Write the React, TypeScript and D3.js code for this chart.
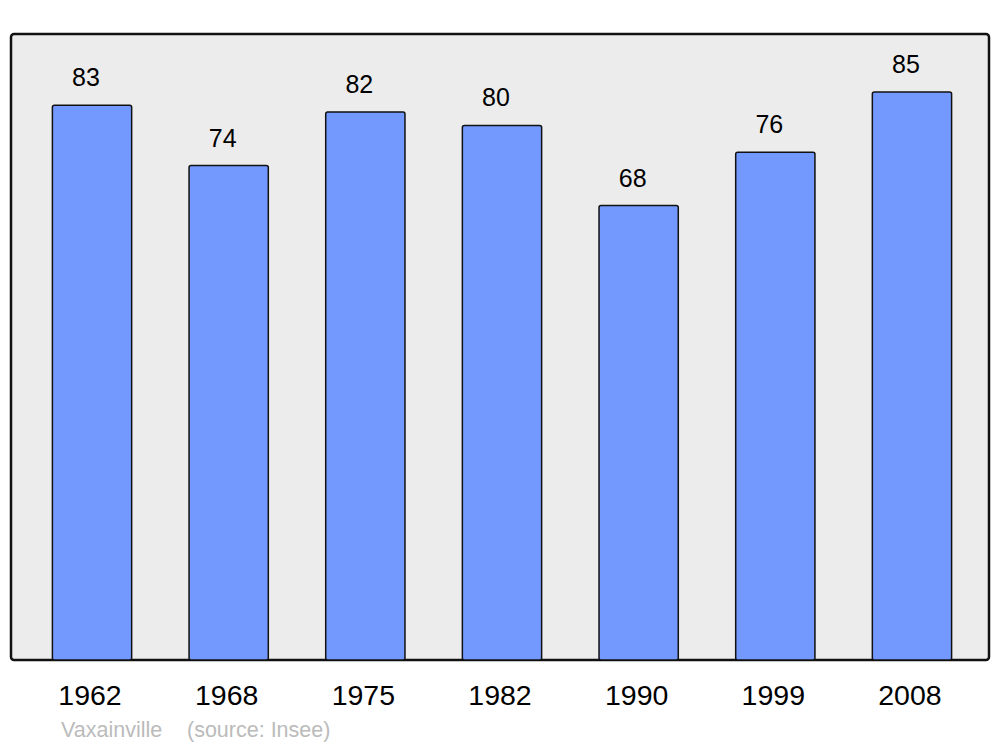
import React, { useRef, useEffect } from 'react';
import * as d3 from 'd3';

const years = ['1962', '1968', '1975', '1982', '1990', '1999', '2008'];
const population = [83, 74, 82, 80, 68, 76, 85];
const townName = 'Vaxainville';
const sourceLabel = '(source: Insee)';

const width = 1000;
const height = 747;

export default function App() {
	const chartRef = useRef<null | SVGSVGElement>(null);

	useEffect(() => {
		if (!chartRef.current) {
			return;
		}
		const svg = d3.select(chartRef.current);
		svg.selectAll('*').remove();

		const font = '"Liberation Sans", Arial, sans-serif';

		// Frame of the plot
		svg.append('rect')
			.attr('x', 11)
			.attr('y', 34)
			.attr('width', 978)
			.attr('height', 626)
			.attr('rx', 3)
			.attr('fill', '#ececec')
			.attr('stroke', '#111')
			.attr('stroke-width', 2.5);

		const x = d3.scaleBand<string>()
			.domain(years)
			.range([23.7, 980.3])
			.paddingInner(0.42)
			.paddingOuter(0.21);

		const y = d3.scaleLinear()
			.domain([0, 85])
			.range([660, 92]);

		const data = years.map((year, i) => ({ year, value: population[i] }));

		svg.selectAll('rect.bar')
			.data(data)
			.enter()
			.append('rect')
			.attr('class', 'bar')
			.attr('x', d => x(d.year) as number)
			.attr('y', d => y(d.value))
			.attr('width', x.bandwidth())
			.attr('height', d => y(0) - y(d.value))
			.attr('rx', 2)
			.attr('fill', '#7399ff')
			.attr('stroke', '#111')
			.attr('stroke-width', 1.5);

		// Value labels
		svg.selectAll('text.value')
			.data(data)
			.enter()
			.append('text')
			.attr('class', 'value')
			.attr('x', d => (x(d.year) as number) + x.bandwidth() / 2 - 6)
			.attr('y', d => y(d.value) - 19)
			.attr('text-anchor', 'middle')
			.style('font-family', font)
			.style('font-size', '25px')
			.attr('fill', '#000')
			.text(d => d.value);

		// Year labels
		svg.selectAll('text.year')
			.data(data)
			.enter()
			.append('text')
			.attr('class', 'year')
			.attr('x', d => (x(d.year) as number) + x.bandwidth() / 2 - 2)
			.attr('y', 705)
			.attr('text-anchor', 'middle')
			.style('font-family', font)
			.style('font-size', '28.5px')
			.attr('fill', '#000')
			.text(d => d.year);

		// Source line
		svg.append('text')
			.attr('x', 61)
			.attr('y', 737)
			.style('font-family', font)
			.style('font-size', '21.5px')
			.attr('fill', '#bbbbbb')
			.text(townName);

		svg.append('text')
			.attr('x', 187)
			.attr('y', 737)
			.style('font-family', font)
			.style('font-size', '21.5px')
			.attr('fill', '#bbbbbb')
			.text(sourceLabel);
	}, []);

	return (
		<svg
			ref={chartRef}
			width={width}
			height={height}
			style={{ position: 'absolute', left: 0, top: 0, background: '#fff' }}
		/>
	);
}
